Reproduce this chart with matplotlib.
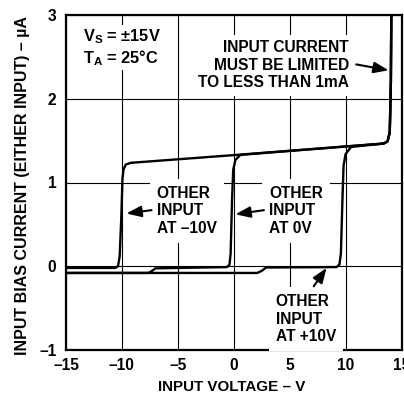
import matplotlib.pyplot as plt

plt.rcParams['font.family'] = ['Liberation Sans', 'DejaVu Sans']
plt.rcParams['font.weight'] = 'bold'
plt.rcParams['font.size'] = 11.2
plt.rcParams['mathtext.fontset'] = 'custom'
plt.rcParams['mathtext.rm'] = 'Liberation Sans:bold'

# bias current (uA) vs input voltage (V), one curve per voltage on the other input
v_other_m10 = [-15, -10.6, -10.35, -10.2, -10.05, -9.95, -9.85, -9.65, -9.2, 0.0, 10.0, 13.4, 13.75, 13.95, 14.05, 14.1]
i_other_m10 = [-0.02, -0.02, 0.0, 0.12, 0.6, 1.05, 1.16, 1.215, 1.235, 1.327, 1.43, 1.465, 1.49, 1.6, 2.2, 3.3]

v_other_0 = [-15, -7.6, -7.3, -7.0, -0.6, -0.38, -0.28, -0.15, -0.05, 0.15, 0.6, 10.0, 13.4, 13.75, 13.95, 14.05, 14.1]
i_other_0 = [-0.08, -0.08, -0.055, -0.025, -0.01, 0.02, 0.15, 0.8, 1.15, 1.27, 1.33, 1.43, 1.465, 1.49, 1.6, 2.2, 3.3]

v_other_p10 = [-15, 2.1, 2.5, 2.9, 9.2, 9.45, 9.58, 9.72, 9.82, 10.0, 10.5, 13.4, 13.75, 13.95, 14.05, 14.1]
i_other_p10 = [-0.08, -0.08, -0.055, -0.015, -0.01, 0.02, 0.15, 0.8, 1.2, 1.34, 1.425, 1.465, 1.49, 1.6, 2.2, 3.3]

x_ticks = [-15, -10, -5, 0, 5, 10, 15]
x_tick_labels = ['–15', '–10', '–5', '0', '5', '10', '15']
y_ticks = [-1, 0, 1, 2, 3]
y_tick_labels = ['–1', '0', '1', '2', '3']

fig = plt.figure(figsize=(4.04, 3.94), dpi=100)
ax = fig.add_axes([66 / 404, 1 - 350 / 394, 335.5 / 404, 335 / 394])

for v, i in [(v_other_m10, i_other_m10), (v_other_0, i_other_0), (v_other_p10, i_other_p10)]:
    ax.plot(v, i, color='black', lw=1.7, solid_capstyle='round', zorder=2)

ax.set_xlim(-15, 15)
ax.set_ylim(-1, 3)
ax.set_xticks(x_ticks)
ax.set_xticklabels(x_tick_labels)
ax.set_yticks(y_ticks)
ax.set_yticklabels(y_tick_labels)
ax.tick_params(length=0, labelsize=11.2)
ax.tick_params(axis='x', pad=6)
ax.tick_params(axis='y', pad=7)
ax.grid(True, color='black', lw=0.8)
for s in ax.spines.values():
    s.set_linewidth(1.6)

box = dict(facecolor='white', edgecolor='none', pad=2)

ax.text(-13.5, 2.74, r'$\mathrm{V_S}$ = ±15V', ha='left', va='center', fontsize=11.8, bbox=box, zorder=3)
ax.text(-13.5, 2.49, r'$\mathrm{T_A}$ = 25°C', ha='left', va='center', fontsize=11.8, bbox=box, zorder=3)

ax.text(10.3, 2.40, 'INPUT CURRENT\nMUST BE LIMITED\nTO LESS THAN 1mA',
        ha='right', va='center', multialignment='right', linespacing=1.22,
        bbox=dict(facecolor='white', edgecolor='none', pad=4), zorder=3)

ax.text(-6.9, 0.66, 'OTHER\nINPUT\nAT –10V', ha='left', va='center',
        linespacing=1.22, bbox=dict(facecolor='white', edgecolor='none', pad=5), zorder=3)
ax.text(3.15, 0.66, 'OTHER\nINPUT\nAT 0V', ha='left', va='center',
        linespacing=1.22, bbox=dict(facecolor='white', edgecolor='none', pad=5), zorder=3)
ax.text(3.75, -0.63, 'OTHER\nINPUT\nAT +10V', ha='left', va='center',
        linespacing=1.22, bbox=dict(facecolor='white', edgecolor='none', pad=5), zorder=3)

arrow = dict(arrowstyle='-|>,head_length=0.8,head_width=0.3', color='black',
             lw=1.5, shrinkA=0, shrinkB=0)
ax.annotate('', xy=(13.85, 2.34), xytext=(10.95, 2.41), arrowprops=arrow, zorder=5)
ax.annotate('', xy=(-9.6, 0.63), xytext=(-7.35, 0.67), arrowprops=arrow, zorder=5)
ax.annotate('', xy=(0.15, 0.62), xytext=(2.7, 0.67), arrowprops=arrow, zorder=5)
ax.annotate('', xy=(8.3, -0.02), xytext=(7.15, -0.24), arrowprops=arrow, zorder=5)

fig.text(232 / 404, 1 - 387 / 394, 'INPUT VOLTAGE – V', ha='center', va='center', fontsize=10.9)
fig.text(23 / 404, 1 - 186 / 394, 'INPUT BIAS CURRENT (EITHER INPUT) – µA',
         ha='center', va='center', rotation=90, fontsize=11.5)

fig.savefig('out.png', dpi=100)
